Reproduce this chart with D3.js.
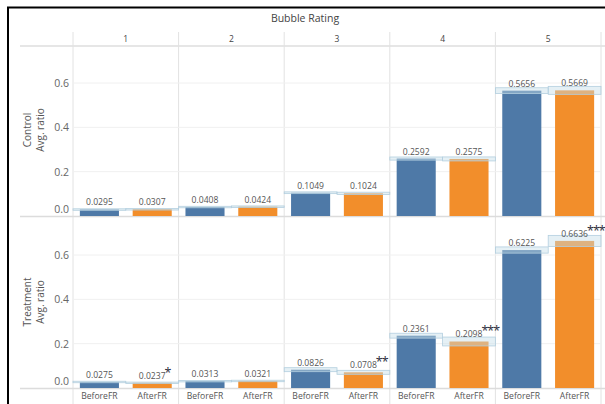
<!DOCTYPE html>
<html><head><meta charset="utf-8">
<script src="https://cdn.jsdelivr.net/npm/d3@7"></script>
<style>html,body{margin:0;padding:0;background:#fff;}svg{display:block;}text{font-family:"Open Sans","Noto Sans",sans-serif;}</style>
</head><body>
<script>
const ratings = ["1","2","3","4","5"];
const periods = ["BeforeFR","AfterFR"];
const groups = ["Control","Treatment"];
const controlBefore = [0.0295,0.0408,0.1049,0.2592,0.5656];
const controlAfter  = [0.0307,0.0424,0.1024,0.2575,0.5669];
const treatBefore   = [0.0275,0.0313,0.0826,0.2361,0.6225];
const treatAfter    = [0.0237,0.0321,0.0708,0.2098,0.6636];
const controlBeforeCI = [0.003,0.003,0.004,0.007,0.013];
const controlAfterCI  = [0.003,0.003,0.005,0.009,0.018];
const treatBeforeCI   = [0.003,0.003,0.009,0.011,0.014];
const treatAfterCI    = [0.003,0.003,0.009,0.020,0.025];
const treatAfterSig   = ["*","","**","***","***"];
const yTicks = [0,0.2,0.4,0.6];

const W=605,H=404;
const svg=d3.select("body").append("svg").attr("width",W).attr("height",H);
svg.append("rect").attr("width",W).attr("height",H).attr("fill","#fff");

const colors={BeforeFR:"#4e79a7",AfterFR:"#f28e2b"};
const x0=d3.scaleBand().domain(ratings).range([73,601]);
const x1=d3.scaleBand().domain(periods).range([0,x0.bandwidth()]).paddingInner(0.26).paddingOuter(0.13);

const panes=[
  {g:"Control",before:controlBefore,after:controlAfter,bci:controlBeforeCI,aci:controlAfterCI,sig:null,
   y:d3.scaleLinear().domain([0,0.767]).range([216,46]),titleY:130},
  {g:"Treatment",before:treatBefore,after:treatAfter,bci:treatBeforeCI,aci:treatAfterCI,sig:treatAfterSig,
   y:d3.scaleLinear().domain([0,0.767]).range([388,218]),titleY:302}
];

// header
svg.append("text").attr("x",305).attr("y",22).attr("text-anchor","middle")
  .attr("font-size",10.5).attr("fill","#444").text("Bubble Rating");
svg.selectAll(".ch").data(ratings).enter().append("text")
  .attr("x",d=>x0(d)+x0.bandwidth()/2).attr("y",42).attr("text-anchor","middle")
  .attr("font-size",8.5).attr("fill","#444").text(d=>d);
svg.append("line").attr("x1",20).attr("x2",W).attr("y1",46).attr("y2",46)
  .attr("stroke","#e6e6e6").attr("stroke-width",2);

// column dividers
const divs=ratings.map(r=>x0(r)).concat([x0.range()[1]]);
svg.selectAll(".cd").data(divs).enter().append("line")
  .attr("x1",d=>d).attr("x2",d=>d).attr("y1",32).attr("y2",H)
  .attr("stroke","#e2e2e2").attr("stroke-width",1);

panes.forEach(p=>{
  const y=p.y;
  svg.selectAll(null).data(yTicks.filter(t=>t>0)).enter().append("line")
    .attr("x1",73).attr("x2",601).attr("y1",d=>y(d)).attr("y2",d=>y(d))
    .attr("stroke","#f0f0f0").attr("stroke-width",1);
  svg.append("line").attr("x1",20).attr("x2",W).attr("y1",y(0)+0.5).attr("y2",y(0)+0.5)
    .attr("stroke","#dcdcdc").attr("stroke-width",1.5);
  const ax=svg.append("g").attr("transform","translate(69,0)")
    .call(d3.axisLeft(y).tickValues(yTicks).tickFormat(d3.format(".1f")).tickSize(0).tickPadding(0));
  ax.select(".domain").remove();
  ax.selectAll("text").attr("font-size",10.5).attr("fill","#666")
    .attr("font-family","'Open Sans','Noto Sans',sans-serif")
    .attr("dy",d=>d===0?"-0.3em":"0.34em");
  const tt=svg.append("text").attr("transform",`translate(0,${p.titleY}) rotate(-90)`)
    .attr("text-anchor","middle").attr("font-size",10).attr("fill","#555");
  tt.append("tspan").attr("x",0).attr("y",31).text(p.g);
  tt.append("tspan").attr("x",0).attr("y",44).text("Avg. ratio");

  const rows=[];
  ratings.forEach((r,i)=>{
    rows.push({r,per:"BeforeFR",v:p.before[i],ci:p.bci[i],sig:""});
    rows.push({r,per:"AfterFR",v:p.after[i],ci:p.aci[i],sig:p.sig?p.sig[i]:""});
  });
  const gx=d=>x0(d.r)+x1(d.per);
  svg.selectAll(null).data(rows).enter().append("rect")
    .attr("x",gx).attr("width",x1.bandwidth())
    .attr("y",d=>y(d.v)).attr("height",d=>y(0)-y(d.v))
    .attr("fill",d=>colors[d.per]);
  const bx=d=>x0(d.r)+x1.step()*periods.indexOf(d.per);
  svg.selectAll(null).data(rows).enter().append("rect")
    .attr("x",bx).attr("width",x1.step())
    .attr("y",d=>y(d.v+d.ci)).attr("height",d=>Math.max(1.5,y(d.v-d.ci)-y(d.v+d.ci)))
    .attr("fill","#c6dde9").attr("fill-opacity",0.45)
    .attr("stroke","#b3cfdf").attr("stroke-width",0.8);
  svg.selectAll(null).data(rows).enter().append("text")
    .attr("x",d=>gx(d)+x1.bandwidth()/2).attr("y",d=>y(d.v)-4)
    .attr("text-anchor","middle").attr("font-size",8.6).attr("fill","#555")
    .text(d=>d3.format(".4f")(d.v));
  svg.selectAll(null).data(rows.filter(d=>d.sig)).enter().append("text")
    .attr("x",d=>x0(d.r)+x0.bandwidth()-14).attr("y",d=>y(d.v)-6)
    .attr("font-size",12.5).attr("fill","#2b2b3a").attr("letter-spacing",-1)
    .attr("font-family","'DejaVu Sans',sans-serif")
    .text(d=>d.sig);
});

const xl=[];
ratings.forEach(r=>periods.forEach(per=>xl.push({r,per})));
svg.selectAll(null).data(xl).enter().append("text")
  .attr("x",d=>x0(d.r)+x1(d.per)+x1.bandwidth()/2).attr("y",399)
  .attr("text-anchor","middle").attr("font-size",8.6).attr("fill","#555").text(d=>d.per);

svg.append("line").attr("x1",7).attr("x2",W).attr("y1",7.5).attr("y2",7.5).attr("stroke","#000").attr("stroke-width",2);
svg.append("line").attr("x1",8).attr("x2",8).attr("y1",7).attr("y2",H).attr("stroke","#000").attr("stroke-width",2);
</script>
</body></html>
